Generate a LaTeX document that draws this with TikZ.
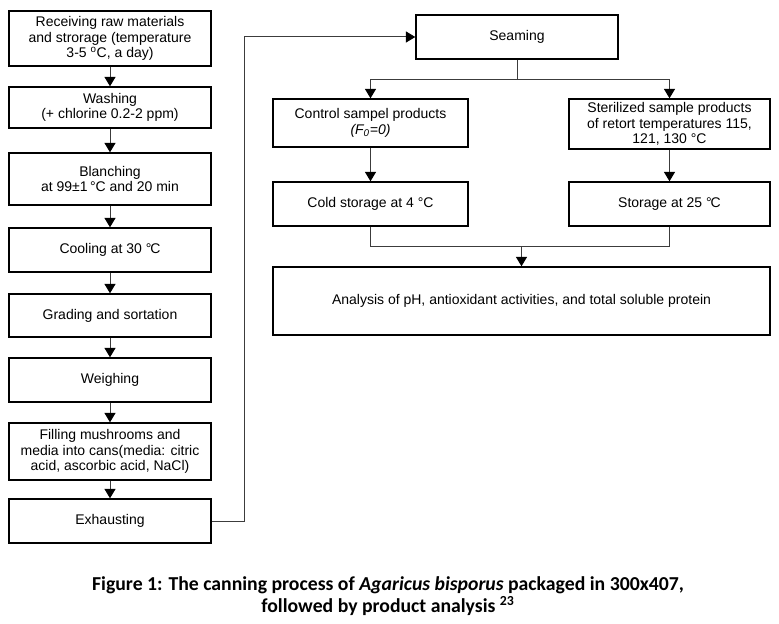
\documentclass[tikz,border=0pt]{standalone}
\usepackage{fontspec}
\setmainfont{Liberation Sans}
\newfontfamily\capfont{Carlito}
\usetikzlibrary{arrows.meta}
\begin{document}
\begin{tikzpicture}[x=0.75pt,y=-0.75pt,
  box/.style={draw=black,line width=1.1pt,rectangle,inner sep=0pt,align=center,
    font=\fontsize{10.5pt}{11.6pt}\selectfont},
  lbox/.style={box,minimum width=151.5pt},
  conn/.style={draw={rgb,255:red,60;green,60;blue,60},line width=0.75pt},
  arr/.style={conn,-{Triangle[width=8.25pt,length=7pt,color=black,fill=black]}}]
\useasboundingbox (0,0) rectangle (779,624);
% left column
\node[lbox,minimum height=41.25pt] (b1) at (110,38.5) {Receiving raw materials\\and strorage (temperature\\3-5 \textsuperscript{o}C, a day)};
\node[lbox,minimum height=30.75pt] (b2) at (110,107.5) {Washing\\(+ chlorine 0.2-2 ppm)};
\node[lbox,minimum height=39pt] (b3) at (110,179) {Blanching\\at 99±1\,°C and 20 min};
\node[lbox,minimum height=33pt] (b4) at (110,250) {Cooling at 30 °\kern-0.08em C};
\node[lbox,minimum height=32.25pt] (b5) at (110,315.5) {Grading and sortation};
\node[lbox,minimum height=33pt] (b6) at (110,380) {Weighing};
\node[lbox,minimum height=42.75pt] (b7) at (110,451.5) {Filling mushrooms and\\media into cans(media: citric\\acid, ascorbic acid, NaCl)};
\node[lbox,minimum height=33pt] (b8) at (110,521) {Exhausting};
\foreach \a/\b in {b1/b2,b2/b3,b3/b4,b4/b5,b5/b6,b6/b7,b7/b8}
  \draw[arr] (\a.south) -- (\b.north);
% right part
\node[box,minimum width=151.5pt,minimum height=33pt] (seam) at (517,37) {Seaming};
\node[box,minimum width=146.25pt,minimum height=36pt] (ctrl) at (370.5,123) {Control sampel products\\\textit{(F\textsubscript{0}=0)}};
\node[box,minimum width=150.75pt,minimum height=37.5pt] (ster) at (669.5,124) {Sterilized sample products\\of retort temperatures 115,\\121, 130 °C};
\node[box,minimum width=146.25pt,minimum height=33pt] (cold) at (370.5,204) {Cold storage at 4 °C};
\node[box,minimum width=150.75pt,minimum height=33pt] (stor) at (669.5,204) {Storage at 25 °\kern-0.08em C};
\node[box,minimum width=372.75pt,minimum height=51pt] (ana) at (521.5,301) {Analysis of pH, antioxidant activities, and total soluble protein};
% connectors
\draw[arr] (b8.east) -- ++(33,0) |- (seam.west);
\coordinate (sp) at (517,80);
\draw[conn] (seam.south) -- (sp);
\draw[arr] (sp) -| (ctrl.north);
\draw[arr] (sp) -| (ster.north);
\draw[arr] (ctrl.south) -- (cold.north);
\draw[arr] (ster.south) -- (stor.north);
\coordinate (mg) at (521.5,247);
\draw[conn] (cold.south) |- (mg);
\draw[conn] (stor.south) |- (mg);
\draw[arr] (mg) -- (ana.north);
% caption
\node[align=center,font=\capfont\bfseries\fontsize{14.8pt}{16.5pt}\selectfont] (cap) at (388,596)
  {Figure 1: The canning process of \textit{Agaricus bisporus} packaged in 300x407,\\followed by product analysis \textsuperscript{23}};
\end{tikzpicture}
\end{document}
